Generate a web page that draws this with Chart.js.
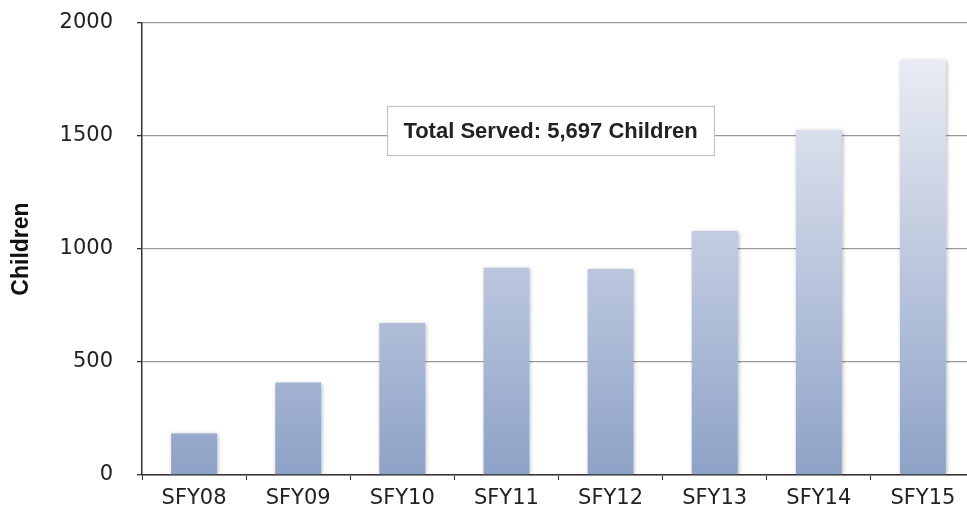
<!DOCTYPE html>
<html>
<head>
<meta charset="utf-8">
<script src="https://cdn.jsdelivr.net/npm/chart.js@4"></script>
<style>
  html, body { margin: 0; padding: 0; background: #fff; overflow: hidden; }
  #wrap { position: relative; width: 975px; height: 515px; }
</style>
</head>
<body>
<div id="wrap"><canvas id="c"></canvas></div>
<script>
const categories = ['SFY08', 'SFY09', 'SFY10', 'SFY11', 'SFY12', 'SFY13', 'SFY14', 'SFY15'];
const children = [184, 409, 673, 917, 911, 1080, 1526, 1836];
const yTicks = [0, 500, 1000, 1500, 2000];
const yTitle = 'Children';
const noteText = 'Total Served: 5,697 Children';

const shadowPlugin = {
  id: 'barShadow',
  beforeDatasetsDraw(chart) {
    const c = chart.ctx;
    c.save();
    c.shadowColor = 'rgba(0,0,0,0.28)';
    c.shadowBlur = 4;
    c.shadowOffsetX = 1;
    c.shadowOffsetY = 1;
  },
  afterDatasetsDraw(chart) {
    chart.ctx.restore();
  }
};

const notePlugin = {
  id: 'note',
  afterDraw(chart) {
    const c = chart.ctx;
    const a = chart.chartArea;
    const x = a.left + 245, y = a.top + 83, w = 327, h = 49;
    c.save();
    c.fillStyle = '#ffffff';
    c.fillRect(x, y, w, h);
    c.strokeStyle = '#c4c4c4';
    c.lineWidth = 1.2;
    c.strokeRect(x + 0.5, y + 0.5, w, h);
    c.fillStyle = '#222222';
    c.font = 'bold 22px "Liberation Sans", Arial, sans-serif';
    c.textAlign = 'center';
    c.textBaseline = 'middle';
    c.fillText(noteText, x + w / 2, y + h / 2 + 1);
    c.restore();
  }
};

new Chart(document.getElementById('c'), {
  type: 'bar',
  data: {
    labels: categories,
    datasets: [{
      data: children,
      borderWidth: 0,
      barPercentage: 0.44,
      categoryPercentage: 1.0,
      backgroundColor(ctx) {
        const chart = ctx.chart;
        const area = chart.chartArea;
        if (!area) return '#a4b4d2';
        const g = chart.ctx.createLinearGradient(0, area.bottom, 0, area.top);
        g.addColorStop(0, '#8ea2c7');
        g.addColorStop(1, '#f1f2f7');
        return g;
      }
    }]
  },
  options: {
    responsive: true,
    maintainAspectRatio: false,
    animation: false,
    devicePixelRatio: 1,
    layout: { padding: { top: 23, left: 0, right: 0, bottom: 0 } },
    plugins: { legend: { display: false }, tooltip: { enabled: false } },
    scales: {
      x: {
        afterFit(s) { s.height = 40; s.paddingLeft = 0; s.paddingRight = 0; },
        grid: { display: true, drawOnChartArea: false, drawTicks: true, tickLength: 5, color: '#333', offset: true },
        border: { color: '#333', width: 1.5 },
        ticks: { color: '#222', padding: 6, font: { family: '"DejaVu Sans", sans-serif', size: 21 } }
      },
      y: {
        min: 0,
        max: 2000,
        afterFit(s) { s.width = 142; s.paddingTop = 0; s.paddingBottom = 0; },
        afterBuildTicks(s) { s.ticks = yTicks.map(v => ({ value: v })); },
        grid: { color: '#9a9a9a', lineWidth: 1.3, tickLength: 5, tickColor: '#333' },
        border: { color: '#333', width: 1.5 },
        ticks: {
          color: '#222', padding: 24,
          font: { family: '"DejaVu Sans", sans-serif', size: 21 },
          callback: (v) => String(v)
        },
        title: {
          display: true,
          text: yTitle,
          color: '#111',
          padding: { top: 8, bottom: 0 },
          font: { family: '"Liberation Sans", Arial, sans-serif', size: 23, weight: 'bold' }
        }
      }
    }
  },
  plugins: [shadowPlugin, notePlugin]
});
</script>
</body>
</html>
